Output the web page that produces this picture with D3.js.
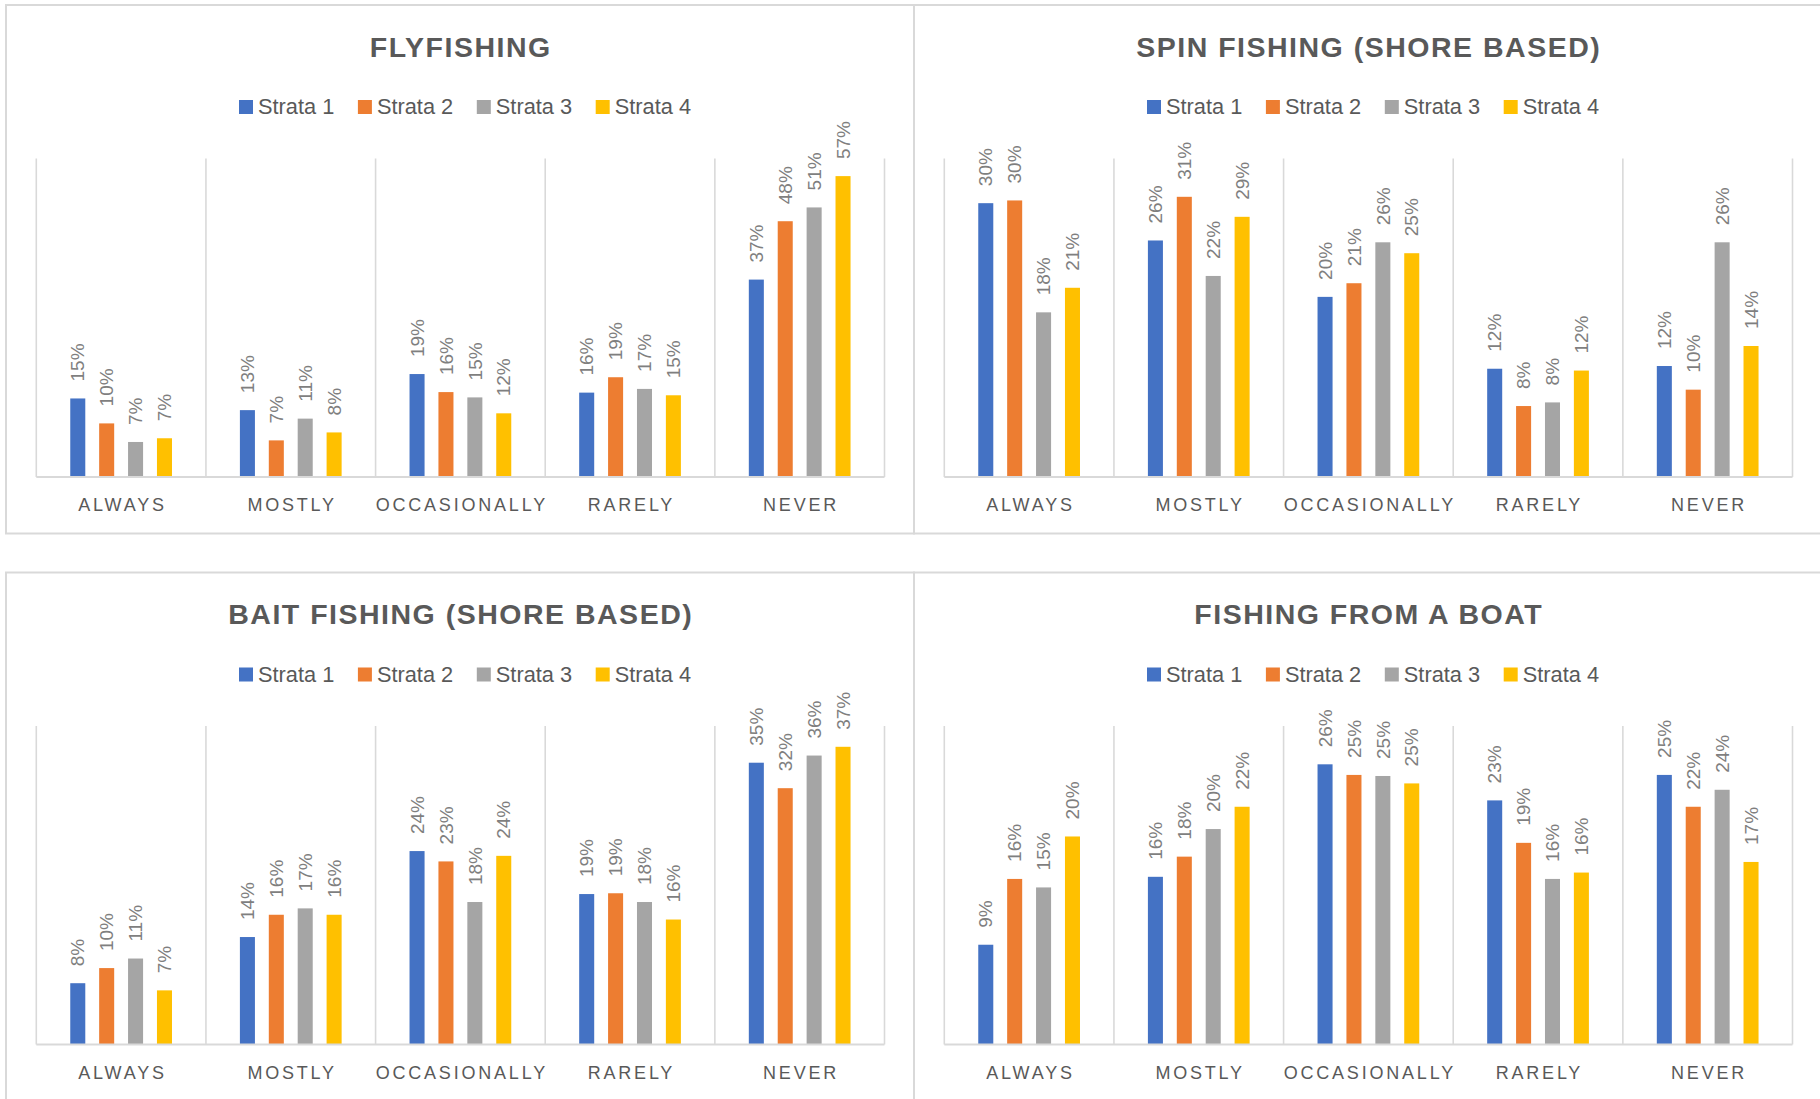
<!DOCTYPE html>
<html><head><meta charset="utf-8">
<script src="https://cdn.jsdelivr.net/npm/d3@7"></script>
<style>html,body{margin:0;padding:0;background:#fff;overflow:hidden}</style>
</head><body>
<svg id="chart" width="1820" height="1099"></svg>
<script>
const categories = ["ALWAYS","MOSTLY","OCCASIONALLY","RARELY","NEVER"];
const seriesNames = ["Strata 1","Strata 2","Strata 3","Strata 4"];
const seriesColors = ["#4472C4","#ED7D31","#A5A5A5","#FFC000"];
const chartTitles = ["FLYFISHING","SPIN FISHING (SHORE BASED)","BAIT FISHING (SHORE BASED)","FISHING FROM A BOAT"];
const axisMax = [60, 35, 40, 30];

// values in percent: one row per series (Strata 1..4), one column per category
const flyfishing = [
  [14.8, 12.6, 19.4, 15.9, 37.2],
  [10.1,  6.9, 16.0, 18.8, 48.2],
  [ 6.6, 11.0, 15.0, 16.6, 50.8],
  [ 7.3,  8.4, 12.0, 15.4, 56.7]
];
const spinFishing = [
  [30.1, 26.0, 19.8, 11.9, 12.2],
  [30.4, 30.8, 21.3,  7.8,  9.6],
  [18.1, 22.1, 25.8,  8.2, 25.8],
  [20.8, 28.6, 24.6, 11.7, 14.4]
];
const baitFishing = [
  [ 7.7, 13.5, 24.3, 18.9, 35.4],
  [ 9.6, 16.3, 23.0, 19.0, 32.2],
  [10.8, 17.1, 17.9, 17.9, 36.3],
  [ 6.8, 16.3, 23.7, 15.7, 37.4]
];
const boatFishing = [
  [ 9.4, 15.8, 26.4, 23.0, 25.4],
  [15.6, 17.7, 25.4, 19.0, 22.4],
  [14.8, 20.3, 25.3, 15.6, 24.0],
  [19.6, 22.4, 24.6, 16.2, 17.2]
];
const chartData = [flyfishing, spinFishing, baitFishing, boatFishing];

// ---- layout ----
const FONT = "'Liberation Sans', Arial, sans-serif";
const TEXT = "#595959", GRID = "#d9d9d9", LABEL = "#7f7f7f";
const PW = 908, PH = 528.5;
const panelOrigins = [[6,5],[914,5],[6,572.5],[914,572.5]];
const plotL = 30.3, plotR = 878.5, plotT = 153.6, plotB = 472;

const svg = d3.select("#chart");
svg.append("rect").attr("width",1820).attr("height",1099).attr("fill","#fff");

chartData.forEach((data, ci) => {
  const [ox, oy] = panelOrigins[ci];
  const g = svg.append("g").attr("transform", `translate(${ox},${oy})`);

  g.append("rect").attr("x",0).attr("y",0).attr("width",PW).attr("height",PH)
    .attr("fill","#fff").attr("stroke",GRID).attr("stroke-width",2);

  // title
  const tls = 1.5;
  g.append("text").attr("x", PW/2 + tls/2).attr("y", 51.5)
    .attr("text-anchor","middle").attr("font-family",FONT).attr("font-weight","bold")
    .attr("font-size",28.5).attr("letter-spacing",tls).attr("fill",TEXT)
    .text(chartTitles[ci]);

  // legend
  const leg = g.append("g");
  seriesNames.forEach((s, si) => {
    const lx = 233 + si*118.9;
    leg.append("rect").attr("x",lx).attr("y",95).attr("width",14).attr("height",14).attr("fill",seriesColors[si]);
    leg.append("text").attr("x",lx+19).attr("y",109).attr("font-family",FONT)
      .attr("font-size",21.8).attr("fill",TEXT).text(s);
  });

  const x0 = d3.scaleBand().domain(categories).range([plotL, plotR]).padding(0);
  const x1 = d3.scaleBand().domain(seriesNames).range([0, x0.bandwidth()])
    .paddingInner(0.48).paddingOuter(1.175);
  const y = d3.scaleLinear().domain([0, axisMax[ci]]).range([plotB, plotT]);

  // category separators
  const seps = categories.map(c => x0(c)).concat([plotR]);
  g.selectAll("line.sep").data(seps).join("line").attr("class","sep")
    .attr("x1",d=>d).attr("x2",d=>d).attr("y1",y(axisMax[ci])).attr("y2",plotB)
    .attr("stroke",GRID).attr("stroke-width",1.6);

  // bars + data labels
  const groups = g.selectAll("g.cat").data(categories).join("g").attr("class","cat")
    .attr("transform", c => `translate(${x0(c)},0)`);
  groups.each(function(c, k) {
    const grp = d3.select(this);
    seriesNames.forEach((s, si) => {
      const v = data[si][k];
      grp.append("rect").attr("x", x1(s)).attr("y", y(v))
        .attr("width", x1.bandwidth()).attr("height", plotB - y(v)).attr("fill", seriesColors[si]);
      const cx = x1(s) + x1.bandwidth()/2;
      grp.append("text").attr("transform", `translate(${cx},${y(v) - 17}) rotate(-90)`)
        .attr("dy","0.35em").attr("font-family",FONT).attr("font-size",19)
        .attr("fill",LABEL).text(Math.round(v) + "%");
    });
  });

  // baseline
  g.append("line").attr("x1",plotL).attr("x2",plotR).attr("y1",plotB).attr("y2",plotB)
    .attr("stroke",GRID).attr("stroke-width",1.8);

  // category labels
  const cls = 2.8;
  g.selectAll("text.cat").data(categories).join("text").attr("class","cat")
    .attr("x", c => x0(c) + x0.bandwidth()/2 + cls/2).attr("y", 506)
    .attr("text-anchor","middle").attr("font-family",FONT).attr("font-size",18)
    .attr("letter-spacing",cls).attr("fill",TEXT).text(c => c);
});
</script>
</body></html>
